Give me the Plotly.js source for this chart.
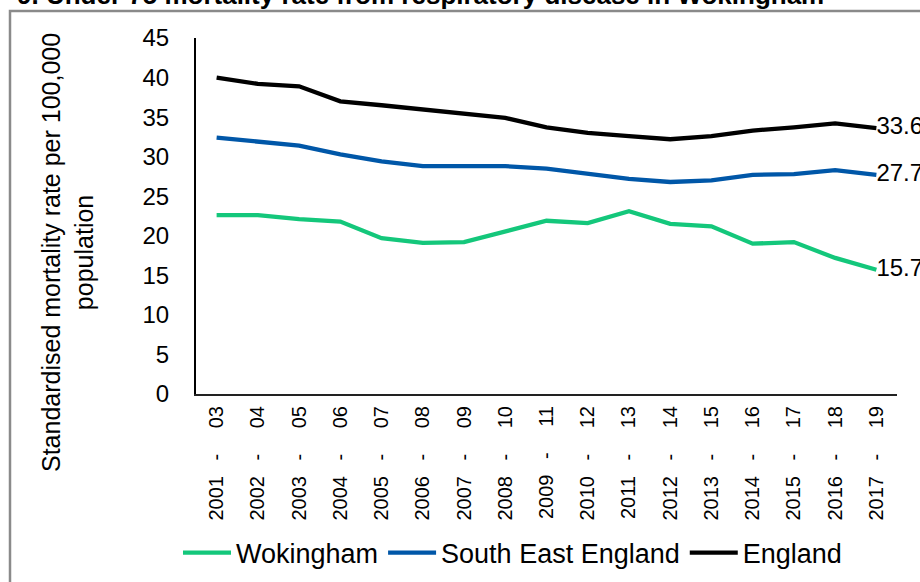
<!DOCTYPE html>
<html>
<head>
<meta charset="utf-8">
<script src="https://cdn.plot.ly/plotly-3.0.1.min.js"></script>
<style>
html,body{margin:0;padding:0;background:#fff;}
#chart{width:920px;height:582px;}
</style>
</head>
<body>
<div id="chart"></div>
<script>
var periods = ["2001 - 03","2002 - 04","2003 - 05","2004 - 06","2005 - 07","2006 - 08","2007 - 09","2008 - 10","2009 - 11","2010 - 12","2011 - 13","2012 - 14","2013 - 15","2014 - 16","2015 - 17","2016 - 18","2017 - 19"];
var wokingham = [22.6,22.6,22.1,21.8,19.7,19.1,19.2,20.6,21.9,21.6,23.1,21.5,21.2,19.0,19.2,17.2,15.7];
var southEast = [32.4,31.9,31.4,30.3,29.4,28.8,28.8,28.8,28.5,27.8,27.2,26.8,27.0,27.7,27.8,28.3,27.7];
var england   = [40.0,39.2,38.9,37.0,36.5,36.0,35.5,34.9,33.7,33.0,32.6,32.2,32.6,33.3,33.7,34.2,33.6];
var seriesNames = ["Wokingham","South East England","England"];
var seriesColors = ["#14C77B","#0057A8","#000000"];
var titleText = "9. Under 75 mortality rate from respiratory disease in Wokingham";
var yTitleText = "Standardised mortality rate per 100,000<br>population";

var FONT = "Liberation Sans, Arial, sans-serif";

function lastLabel(arr){
  return arr.map(function(v,i){ return i === arr.length-1 ? v.toFixed(1) : ""; });
}
var idx = periods.map(function(_,i){ return i; });
var tickText = periods.map(function(p){
  var parts = p.split(" - ");
  return parts[0] + " \u2002-\u2003 " + parts[1];
});

var allSeries = [wokingham, southEast, england];
var traces = allSeries.map(function(vals,k){
  return {
    type: "scatter",
    mode: "lines+text",
    x: idx,
    y: vals,
    name: seriesNames[k],
    line: {color: seriesColors[k], width: 4.3},
    text: lastLabel(vals),
    textposition: "middle right",
    textfont: {family: FONT, size: 24, color: "#000"},
    cliponaxis: false,
    hoverinfo: "skip"
  };
});

var W = 920, H = 582;
var L = 196, R = 23, T = 38, B = 188;
var pw = W - L - R, ph = H - T - B;
function px(X){ return (X - L) / pw; }
function py(Y){ return (H - B - Y) / ph; }

var layout = {
  width: W, height: H,
  margin: {l: L, r: R, t: T, b: B, pad: 0, autoexpand: false},
  paper_bgcolor: "#ffffff",
  plot_bgcolor: "#ffffff",
  font: {family: FONT, color: "#000"},
  showlegend: true,
  legend: {
    orientation: "h",
    x: px(178), xanchor: "left",
    y: py(553), yanchor: "middle",
    font: {family: FONT, size: 27, color: "#000"},
    traceorder: "normal",
    itemwidth: 48,
    bgcolor: "rgba(0,0,0,0)"
  },
  xaxis: {
    type: "linear",
    range: [-0.5, periods.length - 0.5],
    tickmode: "array",
    tickvals: idx,
    ticktext: tickText,
    tickangle: -90,
    tickfont: {family: FONT, size: 20, color: "#000"},
    ticks: "outside", ticklen: 2, tickcolor: "rgba(0,0,0,0)",
    showgrid: false, zeroline: false,
    showline: true, linecolor: "#222", linewidth: 2,
    fixedrange: true
  },
  yaxis: {
    range: [0, 45],
    tickmode: "linear", tick0: 0, dtick: 5,
    tickfont: {family: FONT, size: 24, color: "#000"},
    ticks: "outside", ticklen: 20, tickcolor: "rgba(0,0,0,0)",
    showgrid: false, zeroline: false,
    showline: true, linecolor: "#000", linewidth: 2,
    fixedrange: true
  },
  shapes: [{
    type: "rect", xref: "paper", yref: "paper",
    x0: px(10), x1: px(960), y0: py(640), y1: py(11),
    line: {color: "#8a8a8a", width: 2.5},
    fillcolor: "rgba(0,0,0,0)", layer: "below"
  }],
  annotations: [
    {
      text: "<b>" + titleText + "</b>",
      xref: "paper", yref: "paper",
      x: px(826), xanchor: "right",
      y: py(12), yanchor: "bottom",
      showarrow: false,
      font: {family: FONT, size: 26, color: "#000"}
    },
    {
      text: yTitleText,
      xref: "paper", yref: "paper",
      x: px(67), xanchor: "center",
      y: py(253), yanchor: "middle",
      textangle: -90,
      showarrow: false,
      font: {family: FONT, size: 25, color: "#000"}
    }
  ]
};

Plotly.newPlot("chart", traces, layout, {displayModeBar: false, staticPlot: true});
</script>
</body>
</html>
